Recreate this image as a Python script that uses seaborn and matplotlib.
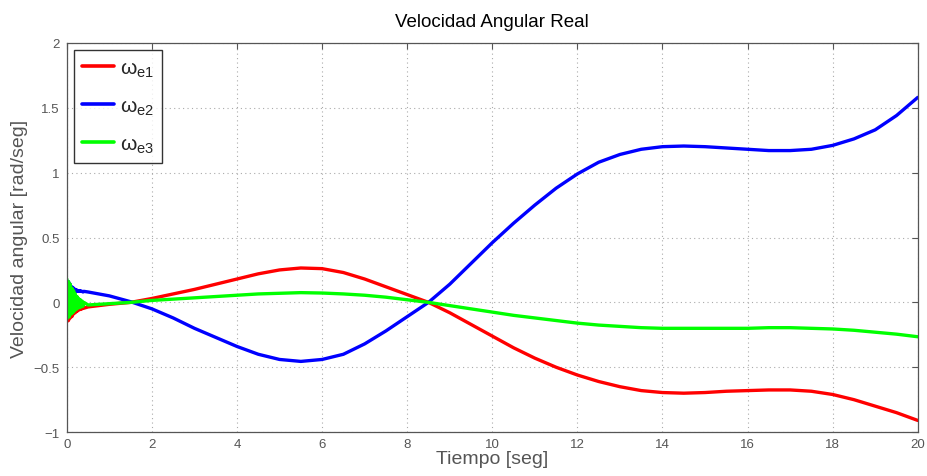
import numpy as np
import pandas as pd
import matplotlib
matplotlib.use("Agg")
import matplotlib.pyplot as plt
import seaborn as sns

# time grid: fine at the start (oscillation), then every 0.5 s
t_early = [round(0.02 * i, 2) for i in range(21)]
t_late = [round(0.5 * i, 1) for i in range(1, 41)]
tiempo = t_early + t_late

we1_early = [-0.15, -0.04, -0.14, -0.05, -0.12, -0.05, -0.11, -0.05, -0.09, -0.05, -0.08,
             -0.05, -0.07, -0.045, -0.06, -0.045, -0.055, -0.04, -0.05, -0.04, -0.045]
we2_early = [0.17, 0.06, 0.16, 0.07, 0.14, 0.08, 0.12, 0.08, 0.11, 0.085, 0.10,
             0.085, 0.095, 0.085, 0.09, 0.085, 0.09, 0.085, 0.085, 0.08, 0.085]
we3_early = [0.18, -0.12, 0.16, -0.11, 0.14, -0.09, 0.11, -0.08, 0.09, -0.065, 0.065,
             -0.055, 0.045, -0.045, 0.03, -0.04, 0.02, -0.035, 0.01, -0.03, 0.0]

we1_late = [-0.035, -0.015, 0.0, 0.03, 0.065, 0.10, 0.14, 0.18, 0.22, 0.25,
            0.265, 0.26, 0.23, 0.18, 0.12, 0.06, 0.0, -0.08, -0.17, -0.26,
            -0.35, -0.43, -0.50, -0.56, -0.61, -0.65, -0.68, -0.695, -0.70, -0.695,
            -0.685, -0.68, -0.675, -0.675, -0.685, -0.71, -0.75, -0.80, -0.85, -0.91]
we2_late = [0.08, 0.05, 0.005, -0.05, -0.12, -0.20, -0.27, -0.34, -0.40, -0.44,
            -0.455, -0.44, -0.40, -0.32, -0.22, -0.11, 0.0, 0.14, 0.30, 0.46,
            0.61, 0.75, 0.88, 0.99, 1.08, 1.14, 1.18, 1.20, 1.205, 1.20,
            1.19, 1.18, 1.17, 1.17, 1.18, 1.21, 1.26, 1.33, 1.44, 1.58]
we3_late = [-0.02, -0.01, 0.0, 0.015, 0.025, 0.035, 0.045, 0.055, 0.065, 0.07,
            0.075, 0.072, 0.065, 0.055, 0.04, 0.02, 0.0, -0.025, -0.05, -0.075,
            -0.10, -0.12, -0.14, -0.16, -0.175, -0.185, -0.195, -0.20, -0.20, -0.20,
            -0.20, -0.20, -0.195, -0.195, -0.20, -0.205, -0.215, -0.23, -0.245, -0.265]

we1 = we1_early + we1_late
we2 = we2_early + we2_late
we3 = we3_early + we3_late

series_names = ['$\\mathrm{\u03c9_{e1}}$', '$\\mathrm{\u03c9_{e2}}$', '$\\mathrm{\u03c9_{e3}}$']
colors = ['#ff0000', '#0000ff', '#00ff00']
x_ticks = [0, 2, 4, 6, 8, 10, 12, 14, 16, 18, 20]
y_ticks = [-1, -0.5, 0, 0.5, 1, 1.5, 2]
y_ticklabels = ['\u22121', '\u22120.5', '0', '0.5', '1', '1.5', '2']

df = pd.concat([
    pd.DataFrame({'t': tiempo, 'w': vals, 's': name})
    for name, vals in zip(series_names, [we1, we2, we3])
], ignore_index=True)

sns.set_style("white")
plt.rcParams['font.family'] = ['Liberation Sans', 'DejaVu Sans']
plt.rcParams['mathtext.fontset'] = 'custom'
plt.rcParams['mathtext.rm'] = 'Liberation Sans'
plt.rcParams['mathtext.it'] = 'Liberation Sans:italic'

fig = plt.figure(figsize=(9.28, 4.77), dpi=100)
ax = fig.add_axes([0.072, 0.092, 0.917, 0.816])

sns.lineplot(data=df, x='t', y='w', hue='s', palette=colors, linewidth=2.4,
             ax=ax, estimator=None, sort=False)

ax.set_xlim(0, 20)
ax.set_ylim(-1, 2)
ax.set_xticks(x_ticks)
ax.set_xticklabels([str(v) for v in x_ticks])
ax.set_yticks(y_ticks)
ax.set_yticklabels(y_ticklabels)
ax.grid(True, linestyle=(0, (1, 3)), color='#aaaaaa', linewidth=0.8)
ax.tick_params(direction='in', length=4, colors='#555555', labelsize=9.5,
               top=True, right=True, labeltop=False, labelright=False)
ax.tick_params(axis='y', pad=5)
ax.tick_params(axis='x', pad=4)
for sp in ax.spines.values():
    sp.set_color('#555555')
    sp.set_linewidth(0.9)

ax.set_xlabel('Tiempo [seg]', fontsize=14, color='#555555', labelpad=0)
ax.set_ylabel('Velocidad angular [rad/seg]', fontsize=14, color='#555555', labelpad=4)
ax.set_title('Velocidad Angular Real', fontsize=13.5, color='black', pad=12)

leg = ax.legend(loc='upper left', fontsize=15, frameon=True, fancybox=False,
                edgecolor='black', handlelength=1.5, labelspacing=0.85,
                borderaxespad=0.35, handletextpad=0.3, borderpad=0.4)
leg.get_frame().set_linewidth(1.0)
for line in leg.get_lines():
    line.set_linewidth(2.6)

fig.savefig('out.png', dpi=100)
